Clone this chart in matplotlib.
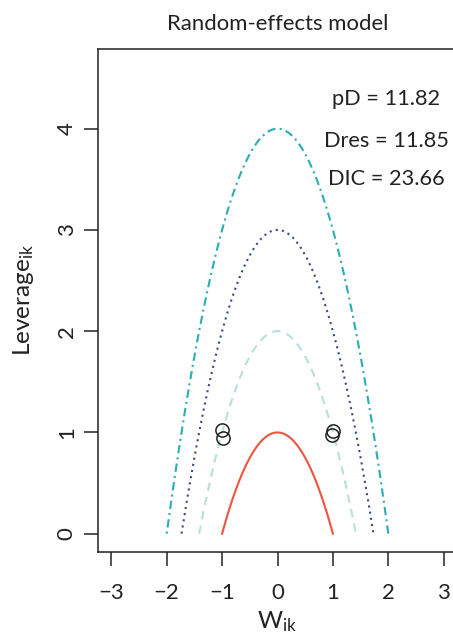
import numpy as np
import matplotlib
matplotlib.use("Agg")
import matplotlib.pyplot as plt

plt.rcParams['font.family'] = ['Lato', 'DejaVu Sans']
plt.rcParams['mathtext.fontset'] = 'custom'
plt.rcParams['mathtext.rm'] = 'Lato'
plt.rcParams['mathtext.it'] = 'Lato:italic'

# ---- data ----
curve_levels = [1, 2, 3, 4]
curve_colors = ['#EE5440', '#B8DEDD', '#3A4A86', '#2AAEB3']
curve_styles = ['-', (0, (4, 3)), (0, (1, 2)), (0, (1, 2, 4, 2))]
point_w = [-1.01, -0.98, 1.01, 0.98]
point_lev = [1.02, 0.94, 1.01, 0.975]
stat_labels = ['pD = 11.82', 'Dres = 11.85', 'DIC = 23.66']
stat_y = [4.29, 3.88, 3.50]
xticks = [-3, -2, -1, 0, 1, 2, 3]
yticks = [0, 1, 2, 3, 4]

W, H = 453, 637
fig = plt.figure(figsize=(W / 100, H / 100), dpi=100)
ax = fig.add_axes([97.7 / W, 1 - 552.3 / H, (457.3 - 97.7) / W, (552.3 - 49.3) / H])

for c, col, ls in zip(curve_levels, curve_colors, curve_styles):
    w = np.linspace(-np.sqrt(c), np.sqrt(c), 200)
    ax.plot(w, c - w ** 2, color=col, linestyle=ls, linewidth=1.5)

ax.plot(point_w, point_lev, linestyle='none', marker='o', markersize=9.5,
        markerfacecolor='none', markeredgecolor='#222222', markeredgewidth=1.1)

for lab, y in zip(stat_labels, stat_y):
    ax.text(1.96, y, lab, ha='center', va='center', fontsize=15.7, color='#222222')

ax.set_xlim(-3.245, 3.245)
ax.set_ylim(-0.184, 4.784)
ax.set_xticks(xticks)
ax.set_xticklabels(['\u22123', '\u22122', '\u22121', '0', '1', '2', '3'])
ax.set_yticks(yticks)
ax.set_yticklabels([str(v) for v in yticks], rotation=90, va='center')
ax.tick_params(axis='both', length=10, width=1.1, color='#222222', labelsize=16,
               labelcolor='#222222')
ax.tick_params(axis='x', pad=12)
ax.tick_params(axis='y', pad=5)
for s in ax.spines.values():
    s.set_linewidth(1.1)
    s.set_color('#222222')

fig.text(277.5 / W, 1 - 24 / H, 'Random-effects model', ha='center', va='center',
         fontsize=15.9, color='#222222')
fig.text(277.5 / W, 1 - 622 / H, r'$\mathrm{W}_{\mathrm{ik}}$', ha='center', va='center',
         fontsize=17.5, color='#222222')
fig.text(24 / W, 1 - 300 / H, r'$\mathrm{Leverage}_{\mathrm{ik}}$', ha='center', va='center',
         rotation=90, fontsize=17.5, color='#222222')

fig.savefig('out.png', dpi=100)
